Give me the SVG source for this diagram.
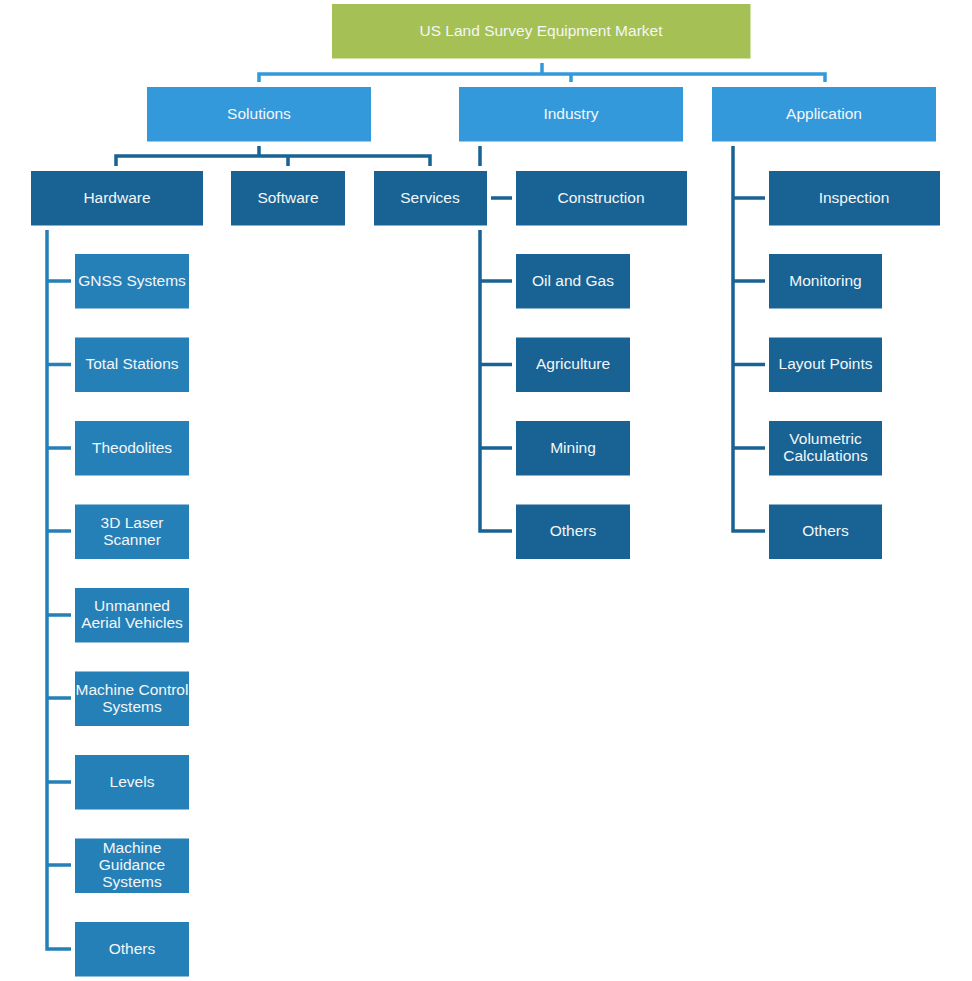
<svg xmlns="http://www.w3.org/2000/svg" width="972" height="981" viewBox="0 0 972 981">
<style>
text{font-family:"Liberation Sans",Arial,sans-serif;font-size:15.5px;fill:#F4F6F8;text-anchor:middle;dominant-baseline:central}
.root{fill:#A5C155}
.l1{fill:#3399DB}
.l2{fill:#186394}
.hw{fill:#2580B7}
.c1{stroke:#3399DB;stroke-width:3.5;fill:none}
.c2{stroke:#186394;stroke-width:3.5;fill:none}
.c3{stroke:#2580B7;stroke-width:3.5;fill:none}
</style>
<rect width="972" height="981" fill="#FFFFFF"/>
<g id="connectors">
<path class="c1" d="M542 63V74M259 82V74H825V82M571 74V82"/>
<path class="c2" d="M259 146V156M116 166V156H430V166M288 156V166"/>
<path class="c2" d="M480 146V166M480 230V531H512M491 198H512M480 281H512M480 364.5H512M480 448H512"/>
<path class="c2" d="M733 146V531H765M733 198H765M733 281H765M733 364.5H765M733 448H765"/>
<path class="c3" d="M47 230V949H71M47 281H71M47 364.5H71M47 448H71M47 531H71M47 615H71M47 698H71M47 782H71M47 865H71"/>
</g>
<g id="root"><rect class="root" x="332" y="4" width="418.5" height="54.5"/><text x="541" y="30">US Land Survey Equipment Market</text></g>
<g id="solutions"><rect class="l1" x="147" y="87" width="224" height="54.5"/><text x="259" y="113">Solutions</text></g>
<g id="industry"><rect class="l1" x="459" y="87" width="224" height="54.5"/><text x="571" y="113">Industry</text></g>
<g id="application"><rect class="l1" x="712" y="87" width="224" height="54.5"/><text x="824" y="113">Application</text></g>
<g id="hardware"><rect class="l2" x="31" y="171" width="172" height="54.5"/><text x="117" y="197">Hardware</text></g>
<g id="software"><rect class="l2" x="231" y="171" width="114" height="54.5"/><text x="288" y="197">Software</text></g>
<g id="services"><rect class="l2" x="374" y="171" width="113" height="54.5"/><text x="430" y="197">Services</text></g>
<g id="construction"><rect class="l2" x="516" y="171" width="171" height="54.5"/><text x="601" y="197">Construction</text></g>
<g id="inspection"><rect class="l2" x="769" y="171" width="171" height="54.5"/><text x="854" y="197">Inspection</text></g>
<g id="gnss"><rect class="hw" x="75" y="254" width="114" height="54.5"/><text x="132" y="280">GNSS Systems</text></g>
<g id="total-stations"><rect class="hw" x="75" y="337.5" width="114" height="54.5"/><text x="132" y="363.5">Total Stations</text></g>
<g id="theodolites"><rect class="hw" x="75" y="421" width="114" height="54.5"/><text x="132" y="447">Theodolites</text></g>
<g id="laser-scanner"><rect class="hw" x="75" y="504.5" width="114" height="54.5"/><text x="132" y="522">3D Laser</text><text x="132" y="539">Scanner</text></g>
<g id="uav"><rect class="hw" x="75" y="588" width="114" height="54.5"/><text x="132" y="605.5">Unmanned</text><text x="132" y="622.5">Aerial Vehicles</text></g>
<g id="machine-control"><rect class="hw" x="75" y="671.5" width="114" height="54.5"/><text x="132" y="689">Machine Control</text><text x="132" y="706">Systems</text></g>
<g id="levels"><rect class="hw" x="75" y="755" width="114" height="54.5"/><text x="132" y="781">Levels</text></g>
<g id="machine-guidance"><rect class="hw" x="75" y="838.5" width="114" height="54.5"/><text x="132" y="847.5">Machine</text><text x="132" y="864.5">Guidance</text><text x="132" y="881.5">Systems</text></g>
<g id="hw-others"><rect class="hw" x="75" y="922" width="114" height="54.5"/><text x="132" y="948">Others</text></g>
<g id="oil-gas"><rect class="l2" x="516" y="254" width="114" height="54.5"/><text x="573" y="280">Oil and Gas</text></g>
<g id="agriculture"><rect class="l2" x="516" y="337.5" width="114" height="54.5"/><text x="573" y="363.5">Agriculture</text></g>
<g id="mining"><rect class="l2" x="516" y="421" width="114" height="54.5"/><text x="573" y="447">Mining</text></g>
<g id="ind-others"><rect class="l2" x="516" y="504.5" width="114" height="54.5"/><text x="573" y="530">Others</text></g>
<g id="monitoring"><rect class="l2" x="769" y="254" width="113" height="54.5"/><text x="825.5" y="280">Monitoring</text></g>
<g id="layout-points"><rect class="l2" x="769" y="337.5" width="113" height="54.5"/><text x="825.5" y="363.5">Layout Points</text></g>
<g id="volumetric"><rect class="l2" x="769" y="421" width="113" height="54.5"/><text x="825.5" y="438.5">Volumetric</text><text x="825.5" y="455.5">Calculations</text></g>
<g id="app-others"><rect class="l2" x="769" y="504.5" width="113" height="54.5"/><text x="825.5" y="530">Others</text></g>
</svg>
